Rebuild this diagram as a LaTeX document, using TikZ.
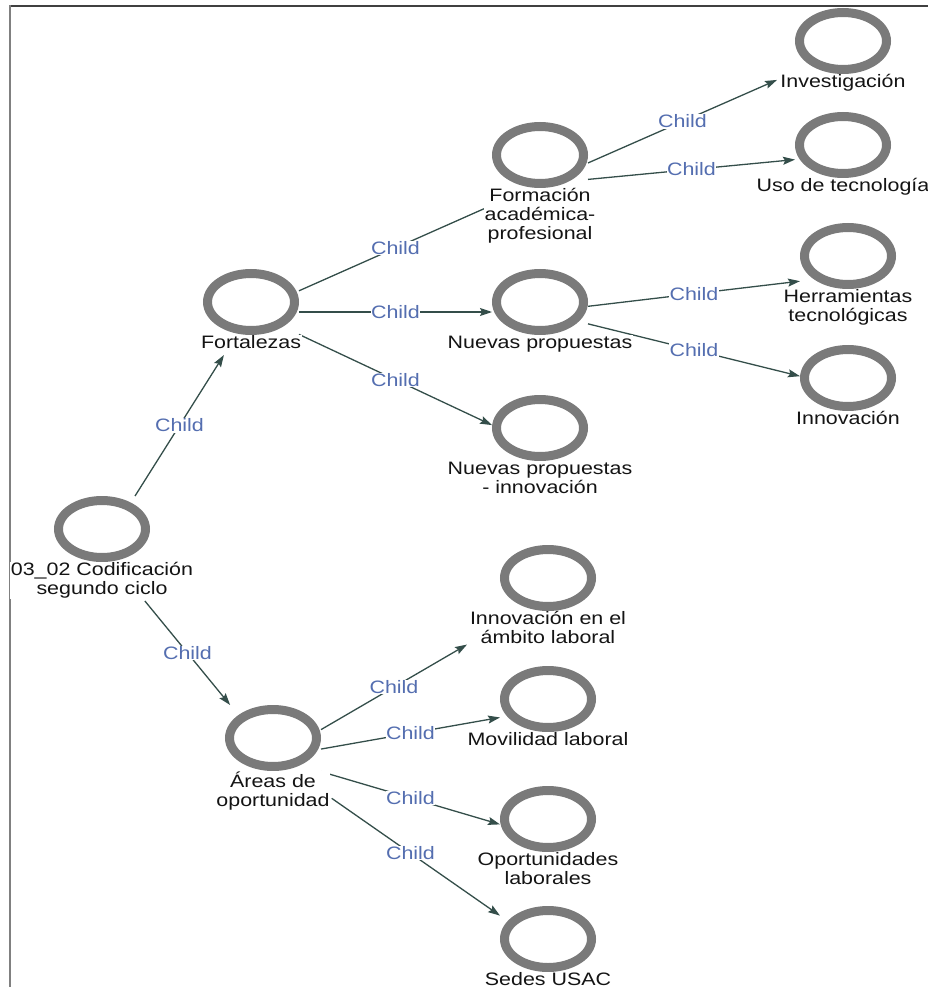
\documentclass[tikz,border=0pt]{standalone}
\usepackage{fontspec}
\setmainfont{Liberation Sans}[FakeStretch=1.19]
\usetikzlibrary{arrows.meta,shapes.geometric,backgrounds}
\definecolor{ringgray}{RGB}{122,122,122}
\definecolor{edgecol}{RGB}{52,78,74}
\definecolor{childblue}{RGB}{84,110,176}
\definecolor{txt}{RGB}{20,20,20}
\tikzset{
  ring/.style={ellipse, draw=ringgray, line width=9pt, minimum width=87pt, minimum height=57pt, inner sep=0pt},
  lbl/.style={font=\fontsize{18}{19}\selectfont, text=txt, align=center, fill=white, inner sep=0.5pt, anchor=north},
  hub/.style={rectangle, inner sep=0pt, outer sep=0pt},
  edge/.style={draw=edgecol, line width=1.3pt, -{Stealth[length=12pt,width=8pt,inset=2pt]}},
  cl/.style={font=\fontsize{18}{18}\selectfont, text=childblue, fill=white, inner sep=0.5pt, pos=0.5}
}
\newcommand{\kn}[6]{%
  \node[ring] (#1c) at (#2,#3) {};
  \node[lbl] (#1l) at (#2,#3+33) {#6};
  \pgfmathsetmacro{\hh}{86+19*(#5-1)}%
  \node[hub, minimum width=#4pt, minimum height=\hh pt] (#1) at (#2,#3-33+\hh/2) {};
}
\begin{document}
\begin{tikzpicture}[x=1pt,y=-1pt]
\useasboundingbox (0,0) rectangle (928,987);
\kn{root}{102}{529}{96}{2}{03\_02 Codificación\\segundo ciclo}
\kn{fort}{251}{302}{96}{1}{Fortalezas}
\kn{form}{540}{155}{96}{3}{Formación\\académica-\\profesional}
\kn{inv}{843}{41}{132}{1}{Investigación}
\kn{uso}{843}{145}{96}{1}{Uso de tecnología}
\kn{nuev}{540}{302}{96}{1}{Nuevas propuestas}
\kn{herr}{848}{256}{96}{2}{Herramientas\\tecnológicas}
\kn{innov}{848}{378}{96}{1}{Innovación}
\kn{npi}{540}{428}{96}{2}{Nuevas propuestas\\- innovación}
\kn{areas}{273}{738}{96}{2}{Áreas de\\oportunidad}
\kn{inlab}{548}{578}{162}{2}{Innovación en el\\ámbito laboral}
\kn{movil}{548}{699}{96}{1}{Movilidad laboral}
\kn{oport}{548}{819}{96}{2}{Oportunidades\\laborales}
\kn{sedes}{548}{939}{96}{1}{Sedes USAC}
\begin{pgfonlayer}{background}
  \draw[line width=1.6pt, black!75] (9,6) -- (928,6);
  \draw[line width=2.2pt, gray] (10,5.2) -- (10,987);
  \draw[edge] (root) -- node[cl]{Child} (fort);
  \draw[edge] (root) -- node[cl]{Child} (areas);
  \draw[edge, shorten >=-12pt] (fort) -- node[cl]{Child} (form);
  \draw[edge] (fort) -- node[cl]{Child} (nuev);
  \draw[edge] (fort) -- node[cl]{Child} (npi);
  \draw[edge] (form) -- node[cl]{Child} (inv);
  \draw[edge] (form) -- node[cl]{Child} (uso);
  \draw[edge] (nuev) -- node[cl]{Child} (herr);
  \draw[edge] (nuev) -- node[cl]{Child} (innov);
  \draw[edge] (areas) -- node[cl]{Child} (inlab);
  \draw[edge] (areas) -- node[cl]{Child} (movil);
  \draw[edge] (areas) -- node[cl]{Child} (oport);
  \draw[edge, shorten <=13pt] (areas) -- node[cl]{Child} (sedes);
\end{pgfonlayer}
\end{tikzpicture}
\end{document}
